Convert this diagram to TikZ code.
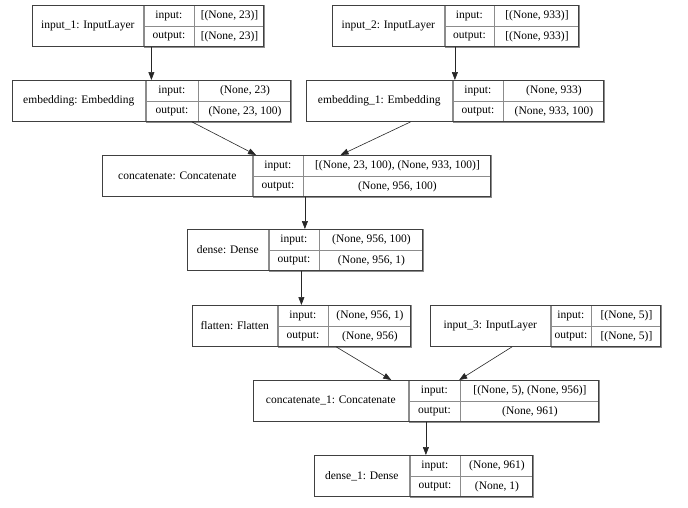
\documentclass[tikz,border=0pt]{standalone}
\usepackage{fontspec}
\setmainfont{Liberation Serif}
\usetikzlibrary{arrows.meta}
\tikzset{
  cell/.style={draw=black!45, line width=0.6pt, inner sep=0pt, minimum height=20.5pt,
    font=\fontsize{11.5}{13}\selectfont},
  namecell/.style={cell, minimum height=41pt},
  layerframe/.style={draw=black!75, line width=0.8pt, inner sep=0pt, minimum height=41pt},
  edge/.style={-{Triangle[length=8pt,width=6pt]}, line width=0.6pt, black!85}
}
% #1 name, #2 top left, #3 #4 #5 column widths, #6 layer, #7 input shape, #8 output shape
\newcommand{\layerbox}[8]{%
  \node[namecell, minimum width=#3pt, anchor=north west] (#1-name) at #2 {#6};
  \node[cell, minimum width=#4pt, anchor=north west] (#1-in) at (#1-name.north east) {input:};
  \node[cell, minimum width=#4pt, anchor=north west] (#1-out) at (#1-in.south west) {output:};
  \node[cell, minimum width=#5pt, anchor=north west] (#1-inv) at (#1-in.north east) {#7};
  \node[cell, minimum width=#5pt, anchor=north west] (#1-outv) at (#1-inv.south west) {#8};
  \node[layerframe, minimum width=#3pt+#4pt+#5pt, anchor=north west] (#1) at #2 {};
}

\begin{document}
\begin{tikzpicture}[x=1pt, y=-1pt]
    \useasboundingbox (0,0) rectangle (688,507);
    \layerbox{in1}{(32,5)}{111}{50}{70}{input\_1: InputLayer}{[(None, 23)]}{[(None, 23)]}
    \layerbox{in2}{(332,5)}{112}{49}{85}{input\_2: InputLayer}{[(None, 933)]}{[(None, 933)]}
    \layerbox{emb}{(12,80)}{133}{52}{93}{embedding: Embedding}{(None, 23)}{(None, 23, 100)}
    \layerbox{emb1}{(306,80)}{146}{50}{101}{embedding\_1: Embedding}{(None, 933)}{(None, 933, 100)}
    \layerbox{cat}{(102,155)}{150}{50}{188}{concatenate: Concatenate}{[(None, 23, 100), (None, 933, 100)]}{(None, 956, 100)}
    \layerbox{dense}{(187,229)}{81}{50}{104}{dense: Dense}{(None, 956, 100)}{(None, 956, 1)}
    \layerbox{flat}{(192,305)}{85}{50}{83}{flatten: Flatten}{(None, 956, 1)}{(None, 956)}
    \layerbox{in3}{(430,305)}{120}{40}{70}{input\_3: InputLayer}{[(None, 5)]}{[(None, 5)]}
    \layerbox{cat1}{(253,380)}{155}{51}{139}{concatenate\_1: Concatenate}{[(None, 5), (None, 956)]}{(None, 961)}
    \layerbox{dense1}{(314,455)}{95}{50}{73}{dense\_1: Dense}{(None, 961)}{(None, 1)}

    \draw[edge] (emb.north |- in1.south) -- (emb.north);
    \draw[edge] (emb1.north |- in2.south) -- (emb1.north);
    \draw[edge] (emb) -- (cat);
    \draw[edge] (emb1) -- (cat);
    \draw[edge] (dense.north |- cat.south) -- (dense.north);
    \draw[edge] (dense.south -| flat.north) -- (flat.north);
    \draw[edge] (flat) -- (cat1);
    \draw[edge] (in3) -- (cat1);
    \draw[edge] (cat1.south) -- (cat1.south |- dense1.north);
  \end{tikzpicture}
\end{document}
